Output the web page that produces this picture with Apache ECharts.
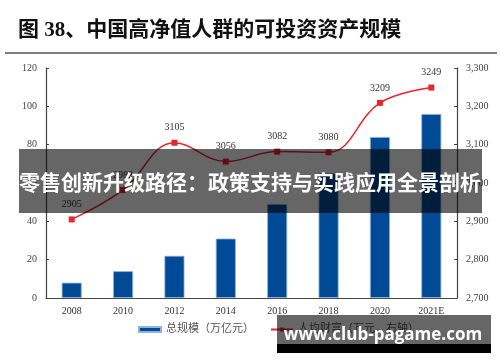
<!DOCTYPE html>
<html><head><meta charset="utf-8">
<script src="https://cdn.jsdelivr.net/npm/echarts@6/dist/echarts.min.js"></script>
<style>html,body{margin:0;padding:0;background:#fff}#c{width:500px;height:362px}</style>
</head><body><div id="c"></div>
<script>
const categories = ['2008','2010','2012','2014','2016','2018','2020','2021E'];
const totalScale = [8, 14, 22, 31, 49, 65, 84, 96];
const perCapita = [2905, 2982, 3105, 3056, 3082, 3080, 3209, 3249];
const leftTicks = {min: 0, max: 120, interval: 20};
const rightTicks = {min: 2700, max: 3300, interval: 100};
const titleText = '图 38、中国高净值人群的可投资资产规模';
const bannerText = '零售创新升级路径：政策支持与实践应用全景剖析';
const watermarkText = 'www.club-pagame.com';
const seriesNames = ['总规模（万亿元）', '人均财富（万元，右轴）'];

const serif = "'Liberation Serif','Noto Sans CJK SC',serif";
const chart = echarts.init(document.getElementById('c'), null, {renderer: 'canvas'});
chart.setOption({
  animation: false,
  backgroundColor: '#fff',
  grid: {left: 46, right: 43, top: 68, bottom: 64},
  legend: {
    bottom: 22, left: 133, itemGap: 16, itemWidth: 22, itemHeight: 5,
    textStyle: {fontFamily: serif, fontSize: 11, color: '#555'},
    data: [
      {name: seriesNames[0], icon: 'rect'},
      {name: seriesNames[1]}
    ]
  },
  xAxis: {
    type: 'category', data: categories,
    axisLine: {lineStyle: {color: '#444', width: 1.2}},
    axisTick: {show: false},
    axisLabel: {fontFamily: serif, fontSize: 10, color: '#333', margin: 8}
  },
  yAxis: [
    {type: 'value', min: leftTicks.min, max: leftTicks.max, interval: leftTicks.interval,
     axisLine: {show: true, lineStyle: {color: '#444', width: 1.2}},
     axisTick: {show: true, inside: true, length: 3, lineStyle: {color: '#444'}},
     splitLine: {show: false},
     axisLabel: {fontFamily: serif, fontSize: 10, color: '#444', margin: 9}},
    {type: 'value', min: rightTicks.min, max: rightTicks.max, interval: rightTicks.interval,
     axisLine: {show: true, lineStyle: {color: '#444', width: 1.2}},
     axisTick: {show: true, inside: true, length: 3, lineStyle: {color: '#444'}},
     splitLine: {show: false},
     axisLabel: {fontFamily: serif, fontSize: 10, color: '#444', margin: 9,
       formatter: v => v.toLocaleString('en-US')}}
  ],
  series: [
    {name: seriesNames[0], type: 'bar', data: totalScale, barWidth: 20,
     itemStyle: {color: '#004a96', borderColor: '#8fb3da', borderWidth: 0.8}},
    {name: seriesNames[1], type: 'line', yAxisIndex: 1, data: perCapita, smooth: 0.4,
     symbol: 'rect', symbolSize: 6,
     lineStyle: {color: '#e8262b', width: 1.5}, itemStyle: {color: '#e8262b'},
     label: {show: true, position: 'top', distance: 7, fontFamily: serif, fontSize: 10, color: '#333'}}
  ],
  graphic: [
    {type: 'text', left: 18, top: 20, style: {text: titleText, fontFamily: serif, fontWeight: 'bold', fontSize: 21, fill: '#111'}},
    {type: 'line', shape: {x1: 5, y1: 53, x2: 497, y2: 53}, style: {stroke: '#555', lineWidth: 1.5}},
    {type: 'rect', z: 100, shape: {x: 19, y: 149, width: 463, height: 64}, style: {fill: 'rgba(0,0,0,0.6)'}},
    {type: 'text', z: 101, x: 250, y: 182, style: {text: bannerText, fontFamily: "'Noto Sans CJK SC'", fontWeight: 'bold', fontSize: 21, fill: '#fff', align: 'center', verticalAlign: 'middle'}},
    {type: 'rect', z: 100, shape: {x: 277, y: 315, width: 214, height: 29}, style: {fill: 'rgba(0,0,0,0.6)'}},
    {type: 'rect', z: 100, shape: {x: 277, y: 344, width: 214, height: 9}, style: {fill: '#000'}},
    {type: 'text', z: 101, x: 383, y: 335, style: {text: watermarkText, fontFamily: "'Open Sans','DejaVu Sans',sans-serif", fontWeight: 'bold', fontSize: 17, fill: '#fff', align: 'center', verticalAlign: 'middle'}}
  ]
});
</script></body></html>
